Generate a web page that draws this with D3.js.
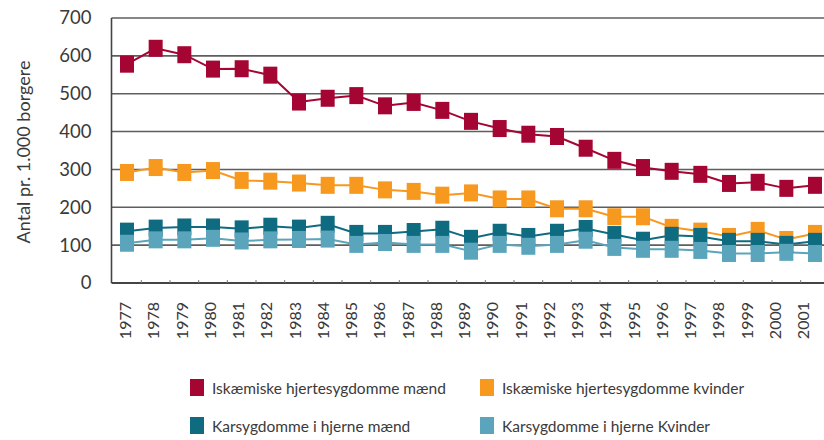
<!DOCTYPE html>
<html>
<head>
<meta charset="utf-8">
<script src="https://cdn.jsdelivr.net/npm/d3@7"></script>
<style>
    body { margin: 0; background: #fff; }
    svg { display: block; font-family: Lato, 'Open Sans', sans-serif; }
</style>
</head>
<body>
<svg id="chart" width="824" height="440"></svg>
<script>
// Data
const years = ['1977', '1978', '1979', '1980', '1981', '1982', '1983', '1984', '1985', '1986', '1987', '1988', '1989',
    '1990', '1991', '1992', '1993', '1994', '1995', '1996', '1997', '1998', '1999', '2000', '2001'];
const ihdMen = [578, 620, 603, 565, 566, 549, 478, 488, 495, 468, 477, 456, 427, 408, 393, 387, 356, 324, 305, 295, 287, 263, 266, 250, 258];
const ihdWomen = [292, 305, 292, 297, 271, 269, 264, 258, 258, 246, 242, 232, 238, 222, 222, 196, 196, 175, 175, 147, 137, 123, 139, 115, 131];
const cvdMen = [137, 145, 148, 148, 143, 150, 145, 155, 131, 131, 136, 142, 118, 134, 123, 134, 144, 128, 113, 126, 123, 110, 110, 102, 110];
const cvdWomen = [105, 114, 114, 118, 111, 114, 115, 116, 102, 107, 102, 102, 84, 102, 97, 102, 113, 94, 89, 89, 86, 78, 78, 81, 78];
const yTicks = [0, 100, 200, 300, 400, 500, 600, 700];

const seriesNames = ['Iskæmiske hjertesygdomme mænd', 'Iskæmiske hjertesygdomme kvinder',
    'Karsygdomme i hjerne mænd', 'Karsygdomme i hjerne Kvinder'];
const seriesValues = [ihdMen, ihdWomen, cvdMen, cvdWomen];
const seriesColors = ['#a50533', '#f7981f', '#0e6b80', '#5aa5bc'];

let svg = d3.select('#chart');
let textColor = '#3a3a3a';

// Plot box
let plotLeft = 111.5, plotRight = 824, plotTop = 18, plotBottom = 283;

let x = d3.scalePoint().domain(years).range([127, 815]);
let xLabel = d3.scalePoint().domain(years).range([125, 803]);
let y = d3.scaleLinear().domain([0, 700]).range([plotBottom, plotTop]);

// Gridlines
svg.append('g')
    .selectAll('line')
    .data(yTicks.filter((d) => d > 0))
    .enter()
    .append('line')
    .attr('x1', plotLeft)
    .attr('x2', plotRight)
    .attr('y1', (d) => y(d))
    .attr('y2', (d) => y(d))
    .attr('stroke', '#5e5e5e')
    .attr('stroke-width', 1.6);

// Y axis labels
let yAxis = svg.append('g')
    .attr('transform', 'translate(' + (plotLeft - 20) + ',0)')
    .call(d3.axisLeft(y).tickValues(yTicks).tickSize(0).tickPadding(0));
yAxis.select('.domain').remove();
yAxis.selectAll('text')
    .attr('fill', textColor)
    .attr('font-size', 18.5)
    .attr('font-family', 'Lato, sans-serif');

// Axis frame
svg.append('line')
    .attr('x1', plotLeft).attr('x2', plotLeft)
    .attr('y1', plotTop).attr('y2', plotBottom)
    .attr('stroke', '#444').attr('stroke-width', 1.6);
svg.append('line')
    .attr('x1', plotLeft).attr('x2', plotRight)
    .attr('y1', plotBottom).attr('y2', plotBottom)
    .attr('stroke', '#444').attr('stroke-width', 2);

// Small category ticks on the baseline
let step = x.step();
svg.append('g')
    .selectAll('line')
    .data(years.slice(0, -1))
    .enter()
    .append('line')
    .attr('x1', (d) => x(d) + step / 2)
    .attr('x2', (d) => x(d) + step / 2)
    .attr('y1', plotBottom)
    .attr('y2', plotBottom - 3)
    .attr('stroke', '#777')
    .attr('stroke-width', 1);

// X axis labels (rotated)
let xAxis = svg.append('g')
    .attr('transform', 'translate(0,' + (plotBottom + 19) + ')')
    .call(d3.axisBottom(xLabel).tickSize(0).tickPadding(0));
xAxis.select('.domain').remove();
xAxis.selectAll('text')
    .attr('fill', textColor)
    .attr('font-size', 16)
    .attr('font-family', 'Lato, sans-serif')
    .attr('text-anchor', 'end')
    .attr('dy', '0.35em')
    .attr('transform', 'rotate(-90)')
    .attr('x', 0)
    .attr('y', 0);

// Y axis title
svg.append('text')
    .attr('transform', 'translate(30,152) rotate(-90)')
    .attr('text-anchor', 'middle')
    .attr('fill', textColor)
    .attr('font-size', 18)
    .text('Antal pr. 1.000 borgere');

// Lines first, then markers
let line = d3.line()
    .x((d, i) => x(years[i]))
    .y((d) => y(d));

let layer = svg.append('g');
seriesValues.forEach(function (values, k) {
    layer.append('path')
        .datum(values)
        .attr('d', line)
        .attr('fill', 'none')
        .attr('stroke', seriesColors[k])
        .attr('stroke-width', 2);
});

let mw = 14, mh = 17;
seriesValues.forEach(function (values, k) {
    layer.append('g')
        .selectAll('rect')
        .data(values)
        .enter()
        .append('rect')
        .attr('x', (d, i) => x(years[i]) - mw / 2)
        .attr('y', (d) => y(d) - mh / 2)
        .attr('width', mw)
        .attr('height', mh)
        .attr('fill', seriesColors[k]);
});

// Legend, 2 x 2
let legend = svg.append('g');
let legendItems = seriesNames.map((name, i) => ({
    name: name,
    color: seriesColors[i],
    col: i % 2,
    row: Math.floor(i / 2),
}));
let item = legend.selectAll('g')
    .data(legendItems)
    .enter()
    .append('g')
    .attr('transform', (d) => 'translate(' + (190 + d.col * 290) + ',' + (379 + d.row * 38) + ')');
item.append('rect')
    .attr('width', 14)
    .attr('height', 17)
    .attr('fill', (d) => d.color);
item.append('text')
    .attr('x', 22)
    .attr('y', 15)
    .attr('fill', textColor)
    .attr('font-size', 15.5)
    .text((d) => d.name);
</script>
</body>
</html>
